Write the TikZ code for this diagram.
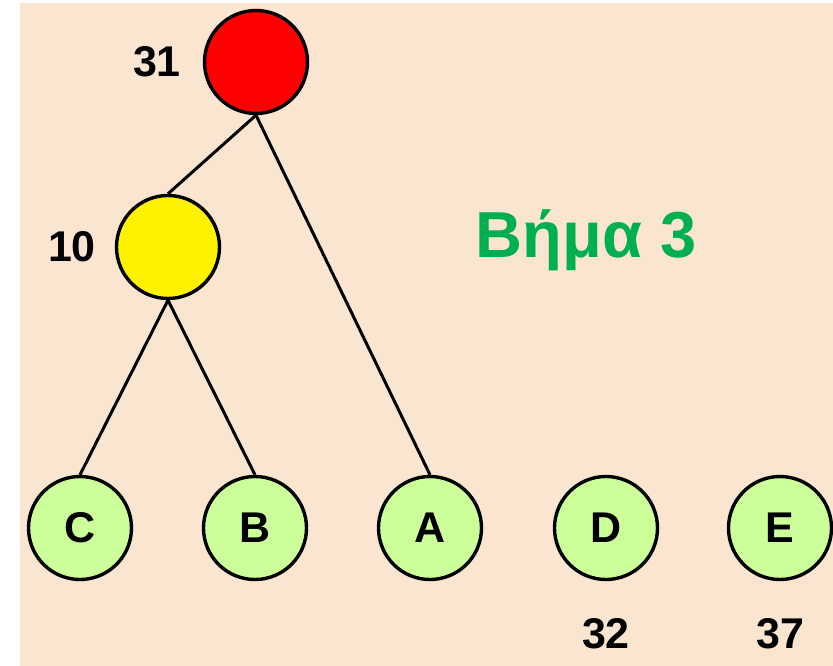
\documentclass[tikz,border=0pt]{standalone}
\usepackage{fontspec}
\setmainfont{Liberation Sans}
\definecolor{bgpeach}{RGB}{250,230,208}
\definecolor{leafgreen}{RGB}{204,255,153}
\definecolor{titlegreen}{RGB}{0,176,80}
\begin{document}
\begin{tikzpicture}[x=1pt,y=-1pt,
  nd/.style={circle,draw=black,line width=3.4pt,minimum size=103pt,inner sep=0pt,font=\fontsize{43}{43}\selectfont\bfseries},
  lbl/.style={font=\fontsize{43}{43}\selectfont\bfseries},
  edge/.style={line width=3pt}]
\useasboundingbox (0,0) rectangle (833,666);
\fill[bgpeach] (20,3) rectangle (833,666);
\node[nd,fill=red] (r) at (256,62) {};
\node[nd,fill=yellow] (y) at (168,247) {};
\node[nd,fill=leafgreen] (c) at (80,528) {C};
\node[nd,fill=leafgreen] (b) at (255,528) {B};
\node[nd,fill=leafgreen] (a) at (430,528) {A};
\node[nd,fill=leafgreen] (d) at (606,528) {D};
\node[nd,fill=leafgreen] (e) at (780,528) {E};
\node[lbl] (l31) at (157,62) {31};
\node[lbl] (l10) at (72,247) {10};
\node[lbl] (l32) at (606,634) {32};
\node[lbl] (l37) at (780,634) {37};
\node[font=\fontsize{65}{65}\selectfont\bfseries,text=titlegreen] (t) at (586,240) {Βήμα 3};
\draw[edge] (r.south) -- (y.north);
\draw[edge] (r.south) -- (a.north);
\draw[edge] (y.south) -- (c.north);
\draw[edge] (y.south) -- (b.north);
\end{tikzpicture}
\end{document}
